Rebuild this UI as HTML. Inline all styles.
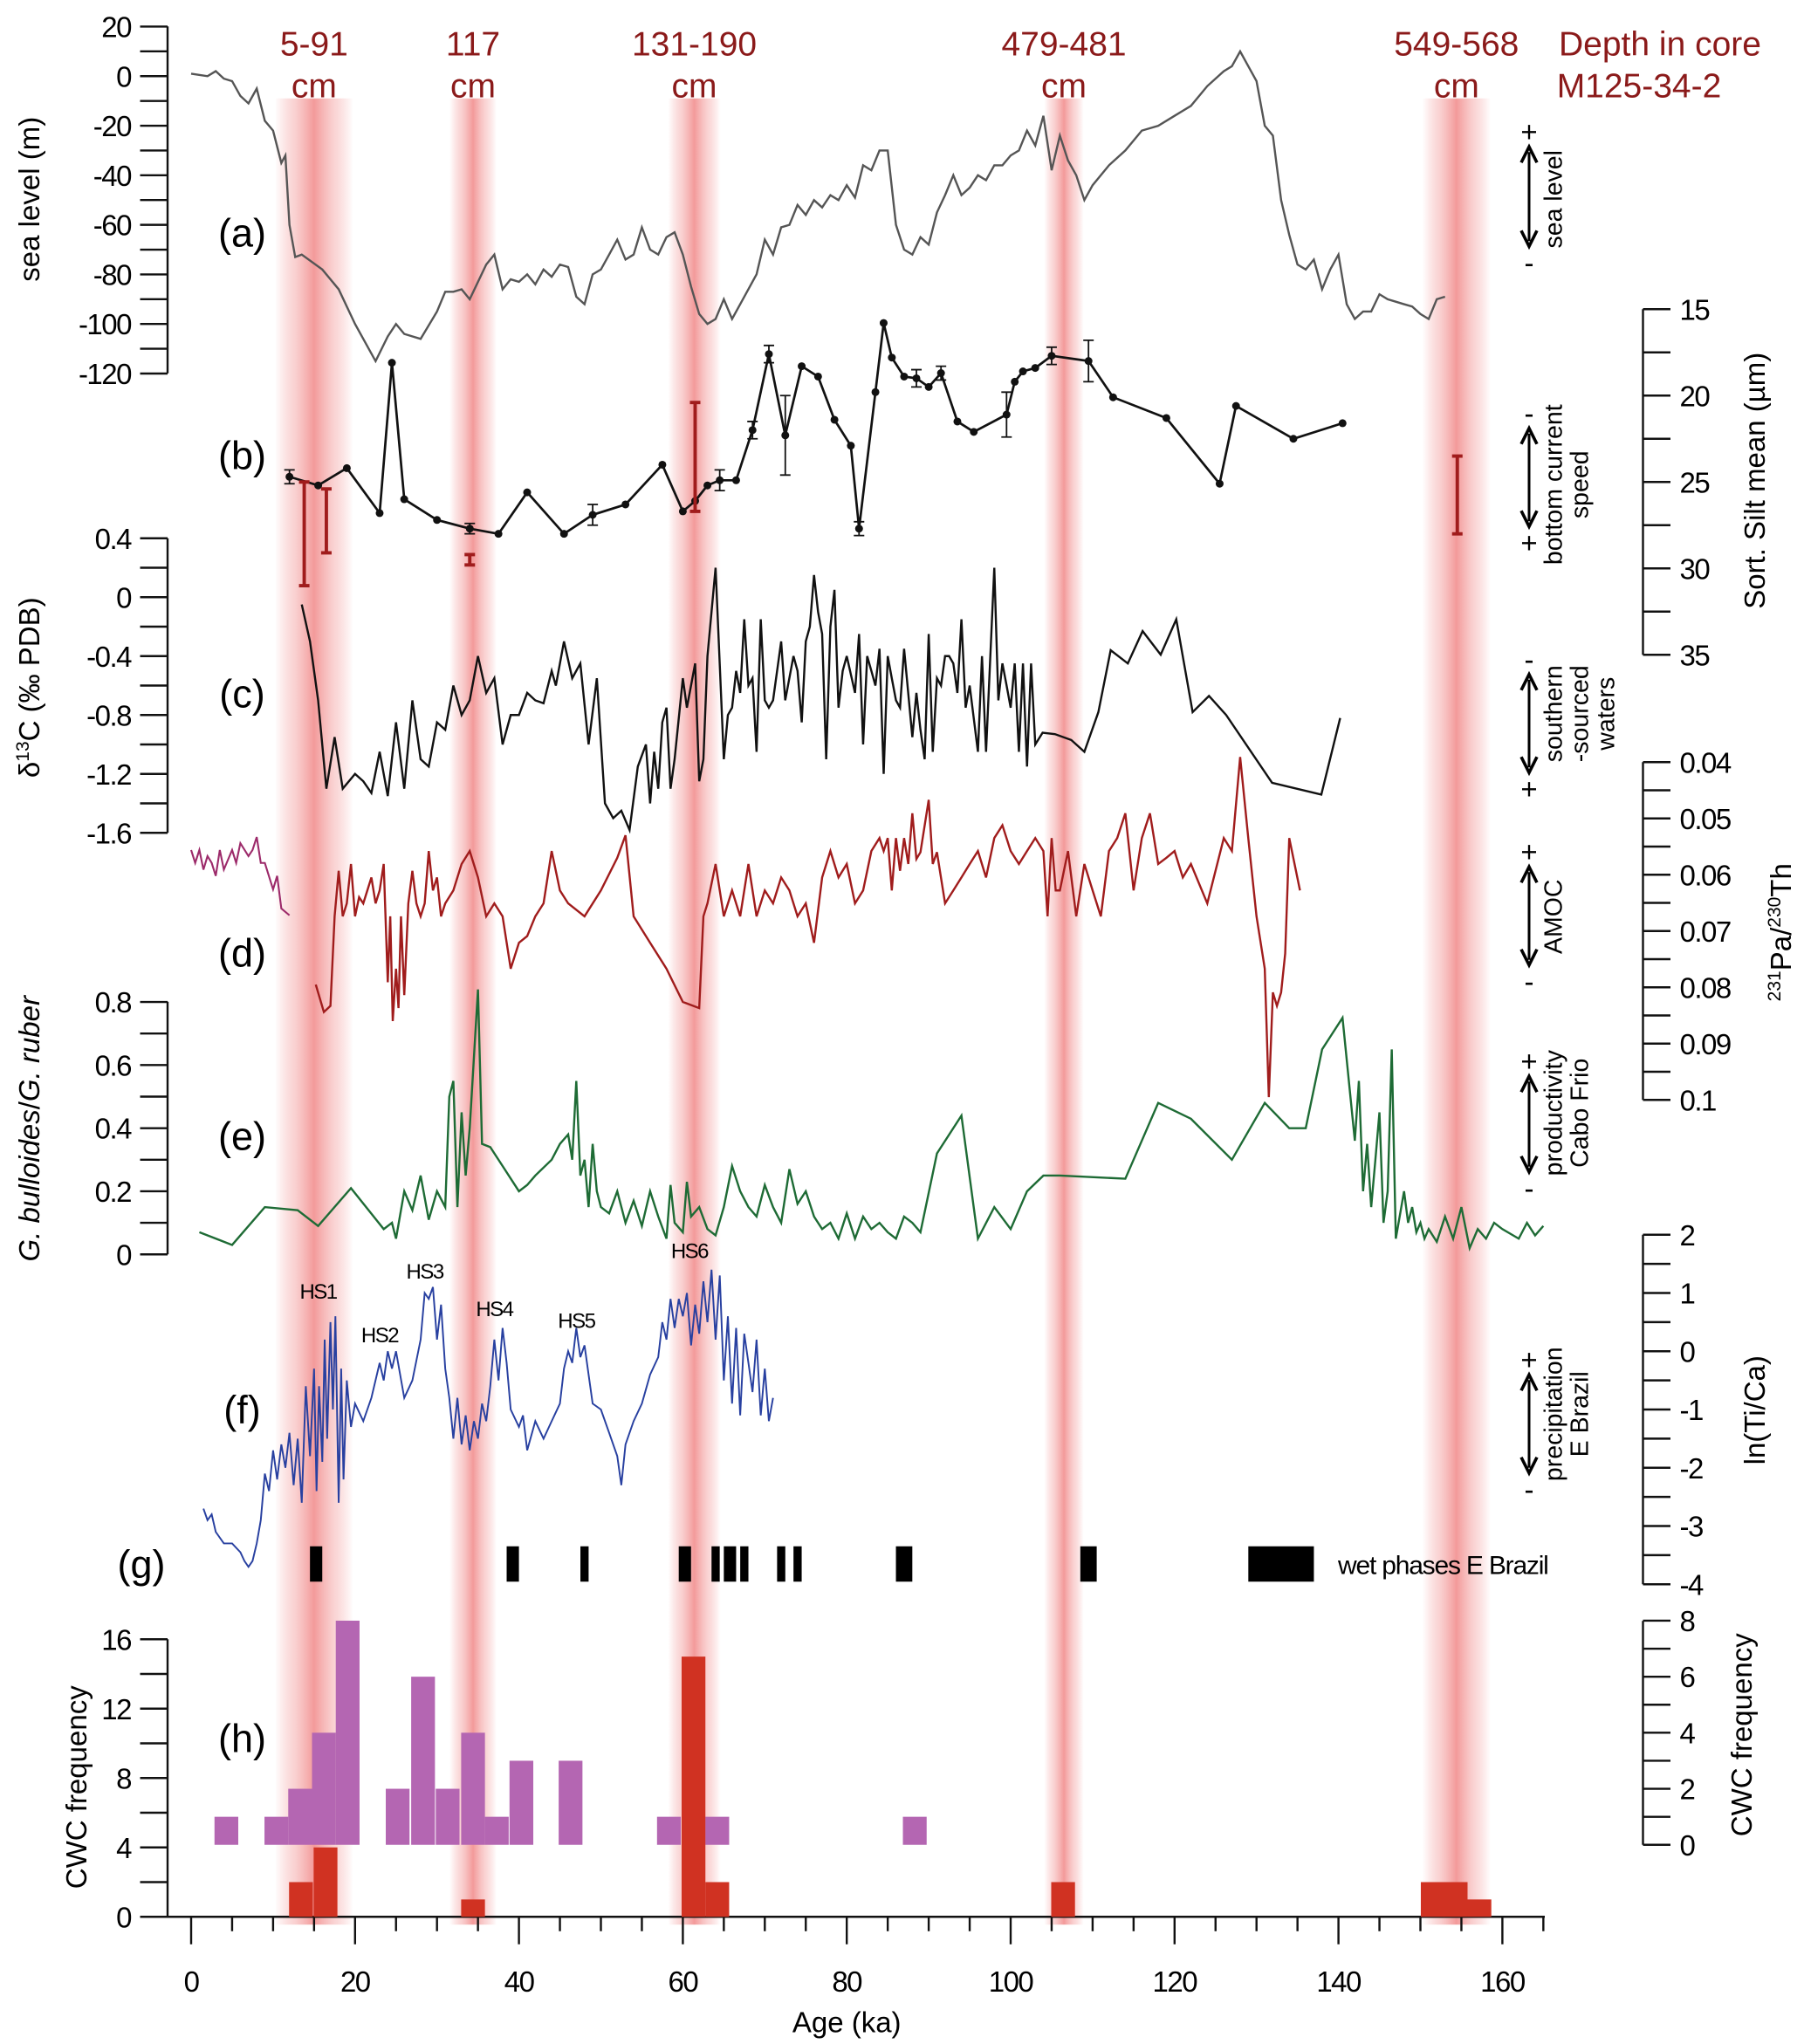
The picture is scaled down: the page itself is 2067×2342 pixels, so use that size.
<!DOCTYPE html>
<html><head><meta charset="utf-8">
<style>
html,body{margin:0;padding:0;background:#fff;}
svg{display:block;font-family:"Liberation Sans",sans-serif;}
</style></head>
<body>
<svg id="chart" width="2067" height="2342" viewBox="0 0 1378 1561" xmlns="http://www.w3.org/2000/svg">
<defs>
<linearGradient id="bandGrad" x1="0" x2="1" y1="0" y2="0">
<stop offset="0" stop-color="#f4a0a0" stop-opacity="0"/>
<stop offset="0.25" stop-color="#f6b4b4" stop-opacity="0.6"/>
<stop offset="0.5" stop-color="#f39a9a" stop-opacity="1"/>
<stop offset="0.75" stop-color="#f6b4b4" stop-opacity="0.6"/>
<stop offset="1" stop-color="#f4a0a0" stop-opacity="0"/>
</linearGradient>
</defs>
<g id="bands"></g>
<g id="plot"></g>
</svg>
<script>
// ---------- DATA ----------
const bandAges=[15,34.4,61.4,106.5,154.4];
const bandLabels=["5-91","117","131-190","479-481","549-568"];
const bandPx=[60,36,40,30,52];

const seaAge=[0,2,3,4,5,6,7,8,9,10,11,11.5,12,12.7,13.5,16,18,20,22.5,24,25,26,28,30,31,32,33,34,36,37,38,39,40,41,42,43,44,45,46,47,48,49,50,51,52,53,54,55,56,57,58,59,60,61,62,63,64,65,66,67,69,70,71,72,73,74,75,76,77,78,79,80,81,82,83,84,85,86,87,88,89,90,91,92,93,94,95,96,97,98,99,100,101,102,103,104,105,106,107,108,109,110,112,114,116,118,120,122,124,125,126,127,128,129,130,131,132,133,134,135,136,137,138,139,140,141,142,143,144,145,146,147,148,149,150,151,152,153];
const seaVal=[1,0,2,-1,-2,-8,-11,-5,-18,-22,-35,-32,-60,-73,-72,-78,-86,-100,-115,-105,-100,-104,-106,-95,-87,-87,-86,-90,-76,-72,-86,-82,-83,-80,-84,-78,-81,-76,-77,-89,-92,-80,-78,-72,-66,-74,-72,-61,-70,-72,-65,-63,-72,-85,-96,-100,-98,-90,-98,-92,-80,-66,-72,-61,-60,-52,-56,-50,-53,-48,-50,-44,-49,-36,-38,-30,-30,-60,-70,-72,-65,-68,-55,-48,-40,-48,-45,-40,-42,-36,-36,-32,-30,-22,-28,-16,-38,-24,-34,-40,-50,-44,-36,-30,-22,-20,-16,-12,-4,-1,2,4,10,4,-2,-20,-24,-50,-64,-76,-78,-74,-86,-78,-72,-92,-98,-95,-95,-88,-90,-91,-92,-93,-96,-98,-90,-89];

const ssAge=[12,15.5,19,23,24.5,26,30,34,37.5,41,45.5,49,53,57.5,60,61.5,63,64.5,66.5,68.5,70.5,72.5,74.5,76.5,78.5,80.5,81.5,83.5,84.5,85.5,87,88.5,90,91.5,93.5,95.5,99.5,100.5,101.5,103,105,109.5,112.5,119,125.5,127.5,134.5,140.5];
const ssVal=[24.7,25.2,24.2,26.8,18.1,26.0,27.2,27.7,28.0,25.6,28.0,26.9,26.3,24.0,26.7,26.1,25.2,24.9,24.9,22.0,17.6,22.3,18.3,18.9,21.4,22.9,27.7,19.8,15.8,17.8,18.9,19.0,19.5,18.7,21.5,22.1,21.1,19.2,18.6,18.4,17.7,18.0,20.1,21.3,25.1,20.6,22.5,21.6];
const ssErr=[0.4,0,0,0,0,0,0,0.3,0,0,0,0.6,0,0,0,0,0,0.6,0,0.5,0.5,2.3,0,0,0,0,0.4,0,0,0,0,0.5,0,0.4,0,0,1.3,0,0,0,0.5,1.2,0,0,0,0,0,0];
const redErrAge=[13.8,16.5,34,61.5,154.5];
const redErrLo=[25.0,25.4,29.2,20.4,23.5];
const redErrHi=[31.0,29.1,29.8,26.7,28.0];

const d13Age=[13.5,14.5,15.5,16.5,17.5,18.5,20,21,22,23,24,25,26,27,28,29,30,31,32,33,34,35,36,37,38,39,40,41,42,43,44,44.5,45.5,46.5,47.5,48.5,49.5,50.5,51.5,52.5,53.5,54.5,55.5,56,56.5,57,57.5,58,58.5,59,60,60.5,61.5,62,62.5,63,64,65,65.5,66,66.5,67,67.5,68,68.5,69,69.5,70,70.5,71,72,72.5,73.5,74,74.5,75,75.5,76,76.5,77,77.5,78,78.5,79,79.5,80,81,81.5,82,82.5,83,83.5,84,84.5,85,85.5,86,86.5,87,88,88.5,89,89.5,90,90.5,91,91.5,92,92.5,93,93.5,94,94.5,95,96,96.5,97,98,98.5,99,99.5,100,100.5,101,101.5,102,102.5,103,103.9,105.4,107.4,109,110.7,112.2,114.3,116.1,118.3,120.2,122.2,124.2,126.3,131.9,137.9,140.2];
const d13Val=[-0.05,-0.3,-0.7,-1.3,-0.95,-1.3,-1.2,-1.25,-1.33,-1.05,-1.35,-0.85,-1.3,-0.7,-1.1,-1.15,-0.85,-0.9,-0.6,-0.8,-0.7,-0.4,-0.65,-0.55,-1.0,-0.8,-0.8,-0.65,-0.7,-0.72,-0.5,-0.6,-0.3,-0.55,-0.45,-1.0,-0.55,-1.4,-1.5,-1.45,-1.58,-1.15,-1.0,-1.4,-1.05,-1.3,-0.85,-0.75,-1.3,-1.1,-0.55,-0.75,-0.45,-1.25,-1.1,-0.4,0.2,-1.1,-0.8,-0.75,-0.5,-0.65,-0.15,-0.6,-0.55,-1.05,-0.15,-0.7,-0.75,-0.7,-0.3,-0.7,-0.4,-0.5,-0.85,-0.3,-0.2,0.15,-0.1,-0.25,-1.1,-0.2,0.05,-0.75,-0.5,-0.4,-0.65,-0.25,-1.0,-0.4,-0.5,-0.6,-0.35,-1.2,-0.4,-0.55,-0.7,-0.75,-0.35,-0.95,-0.65,-0.9,-1.1,-0.25,-1.05,-0.55,-0.6,-0.4,-0.4,-0.45,-0.65,-0.15,-0.75,-0.6,-1.05,-0.4,-1.05,0.2,-0.7,-0.45,-0.6,-0.75,-0.45,-1.05,-0.45,-1.15,-0.45,-1.0,-0.92,-0.93,-0.97,-1.05,-0.78,-0.36,-0.45,-0.23,-0.39,-0.15,-0.78,-0.67,-0.8,-1.26,-1.34,-0.82];

const paPurpleAge=[0,0.5,1,1.5,2,2.5,3,3.5,4,5,5.5,6,7,7.5,8,8.5,9,10,10.5,11,12];
const paPurpleVal=[0.0556,0.0579,0.0556,0.0591,0.0567,0.0579,0.0602,0.0556,0.0591,0.0556,0.0579,0.0544,0.0567,0.0556,0.0533,0.0579,0.0579,0.0626,0.0602,0.0660,0.0672];
const paAge=[15.2,16.2,17,17.5,18,18.5,19,19.5,20,20.5,21,21.5,22,22.5,23,23.5,24,24.3,24.6,25,25.3,25.6,26,26.5,27,27.5,28,28.5,29,29.5,30,30.5,31,32,33,34,35,36,37,38,39,40,41,42,43,44,45,46,48,50,52,53,54,56,58,60,62,62.5,63,64,65,66,67,68,69,70,71,72,73,74,75,76,77,78,79,80,81,82,83,84,84.5,85,85.5,86,86.5,87,87.5,88,88.5,89,90,90.5,91,92,93,94,95,96,97,98,99,100,101,102,103,104,104.5,105,105.5,106,107,108,109,110,111,112,113,114,115,116,117,118,119,120,121,122,124,126,127,128,129,130,131,131.5,132,132.5,133,133.5,134,135.3,136];
const paVal=[0.0795,0.0844,0.0833,0.0674,0.0593,0.0674,0.0651,0.0581,0.0674,0.0640,0.0651,0.0628,0.0605,0.0651,0.0628,0.0581,0.0791,0.0674,0.0860,0.0767,0.0837,0.0674,0.0814,0.0651,0.0593,0.0651,0.0674,0.0651,0.0558,0.0628,0.0605,0.0674,0.0651,0.0628,0.0581,0.0558,0.0605,0.0674,0.0651,0.0674,0.0767,0.0721,0.0709,0.0674,0.0651,0.0558,0.0628,0.0651,0.0674,0.0628,0.0570,0.0530,0.0674,0.0721,0.0767,0.0826,0.0837,0.0674,0.0651,0.0581,0.0674,0.0628,0.0674,0.0581,0.0674,0.0628,0.0651,0.0605,0.0628,0.0674,0.0651,0.0721,0.0605,0.0558,0.0605,0.0581,0.0651,0.0628,0.0558,0.0535,0.0558,0.0535,0.0628,0.0535,0.0593,0.0535,0.0581,0.0491,0.0572,0.0560,0.0467,0.0581,0.0560,0.0651,0.0628,0.0605,0.0581,0.0558,0.0605,0.0535,0.0512,0.0558,0.0581,0.0558,0.0535,0.0558,0.0674,0.0535,0.0628,0.0628,0.0558,0.0674,0.0581,0.0628,0.0674,0.0558,0.0535,0.0491,0.0628,0.0535,0.0491,0.0581,0.0570,0.0558,0.0605,0.0581,0.0651,0.0535,0.0558,0.0391,0.0535,0.0674,0.0767,0.0995,0.0809,0.0833,0.0809,0.0740,0.0535,0.0628];

const ratioAge=[1,5,9,13,15.5,19.5,23.5,24.5,25,26,27,28,29,30,31,31.5,32,32.5,33,33.5,34,35,35.5,36.5,38,40,41,42,44,45,46,46.5,47,47.5,48,48.5,49,49.5,50,51,52,53,54,55,56,57,58,58.5,59,60,60.5,61,62,63,64,65,66,67,68,69,70,71,72,73,74,75,76,77,78,79,80,81,82,83,84,85,86,87,88,89,91,94,96,98,100,102,104,106,114,118,122,127,131,134,136,138,140.5,142,142.5,143,143.5,144,144.5,145,145.5,146,146.5,147,148,148.5,149,149.5,150,150.5,151,152,153,154,155,156,157,158,159,160,162,163,164,165];
const ratioVal=[0.07,0.03,0.15,0.14,0.09,0.21,0.08,0.1,0.05,0.2,0.14,0.25,0.11,0.2,0.15,0.5,0.55,0.15,0.45,0.25,0.4,0.84,0.35,0.34,0.28,0.2,0.22,0.25,0.3,0.35,0.38,0.3,0.55,0.25,0.3,0.15,0.35,0.2,0.15,0.13,0.2,0.1,0.17,0.09,0.2,0.12,0.05,0.22,0.1,0.07,0.23,0.12,0.15,0.08,0.06,0.15,0.28,0.2,0.15,0.12,0.22,0.15,0.1,0.27,0.16,0.2,0.12,0.08,0.1,0.05,0.13,0.05,0.12,0.08,0.1,0.07,0.05,0.12,0.1,0.07,0.32,0.44,0.05,0.15,0.08,0.2,0.25,0.25,0.24,0.48,0.43,0.3,0.48,0.4,0.4,0.65,0.75,0.36,0.55,0.2,0.35,0.15,0.3,0.45,0.1,0.2,0.65,0.05,0.2,0.1,0.15,0.07,0.1,0.05,0.08,0.04,0.12,0.05,0.15,0.02,0.08,0.05,0.1,0.08,0.05,0.1,0.06,0.09];

const tiAge=[1.5,2,2.5,3,4,5,6,6.5,7,7.5,8,8.5,9,9.5,10,10.5,11,11.5,12,12.5,13,13.5,14,14.5,15,15.3,15.6,16,16.3,16.6,17,17.3,17.6,18,18.3,18.6,19,19.5,20,21,22,23,23.5,24,24.5,25,26,27,28,28.5,29,29.5,30,30.5,31,31.5,32,32.5,33,33.5,34,34.5,35,35.5,36,36.5,37,37.5,38,38.5,39,40,40.5,41,42,43,44,45,45.5,46,46.5,47,47.5,48,48.5,49,50,51,52,52.5,53,54,55,56,57,57.5,58,58.5,59,59.5,60,60.5,61,61.5,62,62.5,63,63.5,64,64.5,65,65.5,66,66.5,67,67.5,68,68.5,69,69.5,70,70.5,71];
const tiVal=[-2.7,-2.9,-2.8,-3.1,-3.3,-3.3,-3.45,-3.6,-3.7,-3.6,-3.3,-2.9,-2.1,-2.4,-1.7,-2.2,-1.6,-2.0,-1.4,-2.3,-1.5,-2.6,-0.6,-1.8,-0.3,-2.4,-0.6,-1.9,0.2,-1.5,0.5,-1.0,0.6,-2.6,-0.3,-2.2,-0.5,-1.3,-0.9,-1.2,-0.8,-0.2,-0.5,0.0,-0.3,0.0,-0.8,-0.5,0.2,1.0,0.9,1.1,0.2,0.8,-0.3,-0.8,-1.5,-0.8,-1.6,-1.1,-1.7,-1.2,-1.5,-0.9,-1.2,-0.6,0.2,-0.5,0.4,-0.2,-1.0,-1.3,-1.1,-1.7,-1.2,-1.5,-1.2,-0.9,-0.3,0.0,-0.2,0.4,-0.1,0.1,-0.4,-0.9,-1.0,-1.4,-1.8,-2.3,-1.6,-1.2,-0.9,-0.4,-0.1,0.5,0.2,0.9,0.4,0.9,0.6,1.0,0.1,0.8,0.3,1.2,0.5,1.4,0.2,1.3,-0.5,0.6,-0.9,0.4,-1.1,0.3,-0.2,-0.7,0.2,-1.1,-0.3,-1.2,-0.8];
const hsLabels=["HS1","HS2","HS3","HS4","HS5","HS6"];
const hsAge=[15.5,23,28.5,37,47,60.8];
const hsVal=[0.9,0.15,1.25,0.6,0.4,1.6];

const wetStart=[14.5,38.5,47.5,59.5,63.5,65,67,71.5,73.5,86,108.5,129];
const wetEnd=[16,40,48.5,61,64.5,66.5,68,72.5,74.5,88,110.5,137];

const purpleAge=[4.3,10.4,13.3,16.2,19.1,25.2,28.3,31.3,34.4,37.3,40.3,46.3,58.3,61.3,64.2,88.3];
const purpleVal=[1,1,2,4,8,2,6,2,4,1,3,3,1,1,1,1];
const redAge=[13.4,16.4,34.4,61.3,64.2,106.4,151.5,154.3,157.2];
const redVal=[2,4,1,15,2,2,2,2,1];

const xTicks=[0,20,40,60,80,100,120,140,160];

// ---------- HELPERS ----------
const NS="http://www.w3.org/2000/svg";
const plot=document.getElementById('plot');
const bands=document.getElementById('bands');
function el(tag,attrs,parent){const e=document.createElementNS(NS,tag);for(const k in attrs)e.setAttribute(k,attrs[k]);(parent||plot).appendChild(e);return e;}
function X(a){return 146+a*6.26;}
const Ya=v=>58-v*1.893;
const Yb=v=>236+(v-15)*13.2;
const Yc=v=>411+(0.4-v)*112.5;
const Yd=v=>582+(v-0.04)*4300;
const Ye=v=>958-v*241;
const Yf=v=>943+(2-v)*44.5;
const Yhl=v=>1464-v*13.25;
const Yhr=v=>1409-v*21.4;
function pts(ages,vals,Y){return ages.map((a,i)=>X(a).toFixed(1)+','+Y(vals[i]).toFixed(1)).join(' ');}
function txt(s,x,y,opts,parent){const t=el('text',Object.assign({x:x,y:y,'font-size':22},opts||{}),parent);t.textContent=s;return t;}
function leftAxis(x,y0,y1,ticks,labels,Y,name){
  const g=el('g',{});
  
  
  el('line',{x1:x,x2:x,y1:y0,y2:y1,stroke:'#111','stroke-width':1.6},g);
  ticks.forEach(v=>el('line',{x1:x-21,x2:x,y1:Y(v),y2:Y(v),stroke:'#111','stroke-width':1.6},g));
  labels.forEach(v=>txt(String(v),x-28,Y(v)+8,{'text-anchor':'end','letter-spacing':'-1'},g));
}
function rightAxis(x,y0,y1,ticks,labels,Y,name){
  const g=el('g',{});
  
  
  el('line',{x1:x,x2:x,y1:y0,y2:y1,stroke:'#111','stroke-width':1.6},g);
  ticks.forEach(v=>el('line',{x1:x,x2:x+21,y1:Y(v),y2:Y(v),stroke:'#111','stroke-width':1.6},g));
  labels.forEach(v=>txt(String(v),x+28,Y(v)+8,{'letter-spacing':'-1'},g));
}
function range(a,b,s){const r=[];for(let v=a;v<=b+1e-9;v+=s)r.push(+v.toFixed(4));return r;}
function vtext(s,x,y,size,opts){const t=txt(s,x,y,Object.assign({'font-size':size,'text-anchor':'middle',transform:'rotate(-90 '+x+' '+y+')'},opts||{}));return t;}

// ---------- BANDS ----------
bandAges.forEach((a,i)=>{
  const w=bandPx[i];
  const r=el('rect',{x:X(a)-w/2,y:75,width:w,height:1395,fill:'url(#bandGrad)'},bands);
  
  
  const t1=txt(bandLabels[i],X(a),42,{'font-size':26,fill:'#8b1a1a','text-anchor':'middle'});
  
  
  txt('cm',X(a),74,{'font-size':26,fill:'#8b1a1a','text-anchor':'middle'});
});
const dp=txt('Depth in core',1268,42,{'font-size':26,fill:'#8b1a1a','text-anchor':'middle'});


txt('M125-34-2',1252,74,{'font-size':26,fill:'#8b1a1a','text-anchor':'middle'});

// ---------- AXES ----------
leftAxis(128,20,285,range(-120,20,10),range(-120,20,20),Ya,'sea-level-axis');
rightAxis(1255,236,500,range(15,35,2.5),range(15,35,5),Yb,'silt-axis');
leftAxis(128,411,636,range(-1.6,0.4,0.2),[0.4,0,-0.4,-0.8,-1.2,-1.6],Yc,'d13c-axis');
rightAxis(1255,582,840,range(0.04,0.1,0.005),[0.04,0.05,0.06,0.07,0.08,0.09,0.1],Yd,'pa-th-axis');
leftAxis(128,765,958,range(0,0.8,0.1),[0,0.2,0.4,0.6,0.8],Ye,'ratio-axis');
rightAxis(1255,943,1210,range(-4,2,0.5),range(-4,2,1),Yf,'ti-ca-axis');
leftAxis(128,1252,1464,range(0,16,2),range(0,16,4),Yhl,'cwc-left-axis');
rightAxis(1255,1238,1409,range(0,8,1),range(0,8,2),Yhr,'cwc-right-axis');

// x axis
const xg=el('g',{});


el('line',{x1:128,x2:1180,y1:1464,y2:1464,stroke:'#111','stroke-width':1.6},xg);
range(0,165,5).forEach(a=>{const maj=a%20===0;el('line',{x1:X(a),x2:X(a),y1:1464,y2:maj?1485:1475,stroke:'#111','stroke-width':1.6},xg);});
xTicks.forEach(a=>txt(String(a),X(a),1521,{'text-anchor':'middle','letter-spacing':'-1'},xg));
const xt=txt('Age (ka)',X(80),1552,{'text-anchor':'middle','font-size':22});



// axis titles
vtext('sea level (m)',30,152,22);
const d13t=txt('',30,525,{'font-size':22,'text-anchor':'middle',transform:'rotate(-90 30 525)'});
d13t.innerHTML='δ<tspan font-size="14" dy="-8">13</tspan><tspan dy="8">C (‰ PDB)</tspan>';

const rt=txt('',30,862,{'font-size':22,'text-anchor':'middle',transform:'rotate(-90 30 862)'});
rt.innerHTML='<tspan font-style="italic">G. bulloides</tspan>/<tspan font-style="italic">G. ruber</tspan>';

vtext('CWC frequency',66,1365,22);
vtext('Sort. Silt mean (µm)',1348,367,22);
const pt=txt('',1368,712,{'font-size':22,'text-anchor':'middle',transform:'rotate(-90 1368 712)'});
pt.innerHTML='<tspan font-size="14" dy="-8">231</tspan><tspan dy="8">Pa/</tspan><tspan font-size="14" dy="-8">230</tspan><tspan dy="8">Th</tspan>';

vtext('ln(Ti/Ca)',1348,1077,22);
vtext('CWC frequency',1338,1325,22);

// ---------- SERIES ----------
const sl=el('polyline',{points:pts(seaAge,seaVal,Ya),fill:'none',stroke:'#555','stroke-width':1.6});



ssAge.forEach((a,i)=>{if(ssErr[i]>0){const x=X(a);const e1=Yb(ssVal[i]-ssErr[i]),e2=Yb(ssVal[i]+ssErr[i]);
  const g=el('path',{d:`M${x},${e1}V${e2}M${x-4},${e1}H${x+4}M${x-4},${e2}H${x+4}`,stroke:'#111','stroke-width':1.2,fill:'none'});
  
  }});
const ssl=el('polyline',{points:pts(ssAge,ssVal,Yb),fill:'none',stroke:'#111','stroke-width':1.8});


ssAge.forEach((a,i)=>{const c=el('circle',{cx:X(a),cy:Yb(ssVal[i]),r:3,fill:'#111'});
  
  });
redErrAge.forEach((a,i)=>{const x=X(a),y1=Yb(redErrLo[i]),y2=Yb(redErrHi[i]);
  const p=el('path',{d:`M${x},${y1}V${y2}M${x-4},${y1}H${x+4}M${x-4},${y2}H${x+4}`,stroke:'#a01c1c','stroke-width':2.6,fill:'none'});
  
  });

const dl=el('polyline',{points:pts(d13Age,d13Val,Yc),fill:'none',stroke:'#111','stroke-width':1.6});



const pp=el('polyline',{points:pts(paPurpleAge,paPurpleVal,Yd),fill:'none',stroke:'#9c2a6a','stroke-width':1.4});


const pl=el('polyline',{points:pts(paAge,paVal,Yd),fill:'none',stroke:'#a01c1c','stroke-width':1.6});



const gl=el('polyline',{points:pts(ratioAge,ratioVal,Ye),fill:'none',stroke:'#1e6b35','stroke-width':1.6});



const bl=el('polyline',{points:pts(tiAge,tiVal,Yf),fill:'none',stroke:'#2840a0','stroke-width':1.3});


hsLabels.forEach((s,i)=>{const t=txt(s,X(hsAge[i]),Yf(hsVal[i]),{'font-size':16,'text-anchor':'middle','letter-spacing':'-1'});
  
  });

wetStart.forEach((a,i)=>{const r=el('rect',{x:X(a),y:1181,width:X(wetEnd[i])-X(a),height:27,fill:'#000'});
  
  });
const wl=txt('wet phases E Brazil',1022,1202,{'font-size':20,'letter-spacing':'-0.8'});



const bw=2.9*6.26;
purpleAge.forEach((a,i)=>{const r=el('rect',{x:X(a)-bw/2,y:Yhr(purpleVal[i]),width:bw,height:Yhr(0)-Yhr(purpleVal[i]),fill:'#b466b2'});
  
  });
redAge.forEach((a,i)=>{const r=el('rect',{x:X(a)-bw/2,y:Yhl(redVal[i]),width:bw,height:Yhl(0)-Yhl(redVal[i]),fill:'#d03222'});
  
  });

// panel letters
[['(a)',188],['(b)',358],['(c)',540],['(d)',738],['(e)',878],['(f)',1087],['(h)',1338]].forEach(p=>{const t=txt(p[0],185,p[1],{'font-size':30,'text-anchor':'middle'});
  
  });
const gt=txt('(g)',108,1205,{'font-size':30,'text-anchor':'middle'});



// side annotations
function arrow(x,y1,y2,top,bot,lines,cy){
  const g=el('g',{});
  
  
  el('line',{x1:x,x2:x,y1:y1+4,y2:y2-4,stroke:'#000','stroke-width':2},g);
  el('path',{d:`M${x-6},${y1+12}L${x},${y1}L${x+6},${y1+12}M${x-6},${y2-12}L${x},${y2}L${x+6},${y2-12}`,stroke:'#000','stroke-width':2.4,fill:'none'},g);
  txt(top,x,y1-4,{'font-size':22,'text-anchor':'middle'},g);
  txt(bot,x,y2+20,{'font-size':22,'text-anchor':'middle'},g);
  lines.forEach((s,i)=>{const tx=x+25+i*20;const t=el('text',{x:tx,y:cy,'font-size':19,'text-anchor':'middle',transform:`rotate(-90 ${tx} ${cy})`},g);t.textContent=s;});
}
arrow(1168,112,188,'+','-',['sea level'],152);
arrow(1168,327,402,'-','+',['bottom current','speed'],370);
arrow(1168,515,590,'-','+',['southern','-sourced','waters'],545);
arrow(1168,662,737,'+','-',['AMOC'],700);
arrow(1168,822,895,'+','-',['productivity','Cabo Frio'],850);
arrow(1168,1050,1125,'+','-',['precipitation','E Brazil'],1080);
</script>
</body></html>
